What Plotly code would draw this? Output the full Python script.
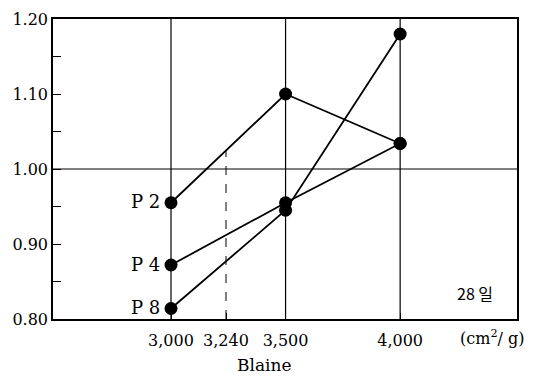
import numpy as np
import plotly.graph_objects as go

# Blaine fineness (cm^2/g) and 28-day strength ratio for each mix
blaine = [3000, 3500, 4000]
p2 = [0.955, 1.100, 1.034]
p4 = [0.872, 0.955, 1.034]
p8 = [0.814, 0.945, 1.180]
series = [("P 2", p2), ("P 4", p4), ("P 8", p8)]

x_ticks = [3000, 3240, 3500, 4000]
x_ticktext = ["3,000", "3,240", "3,500", "4,000"]
y_ticks = [0.80, 0.90, 1.00, 1.10, 1.20]
y_ticktext = ["0.80", "0.90", "1.00", "1.10", "1.20"]
grid_x = [3000, 3500, 4000]
ref_blaine = 3240

serif = "DejaVu Serif"

fig = go.Figure()
for name, vals in series:
    fig.add_trace(go.Scatter(
        x=blaine, y=vals, mode="lines+markers", name=name,
        line=dict(color="black", width=1.8),
        marker=dict(color="black", size=13),
        showlegend=False,
    ))
    fig.add_annotation(
        x=blaine[0], y=vals[0], text=name, showarrow=False,
        xanchor="right", xshift=-9, yshift=1,
        font=dict(family=serif, size=18, color="black"),
    )

# vertical grid lines and the 1.00 reference line
for gx in grid_x:
    fig.add_shape(type="line", x0=gx, x1=gx, y0=0, y1=1, xref="x", yref="paper",
                  line=dict(color="black", width=1.2), layer="below")
fig.add_shape(type="line", x0=0, x1=1, y0=1.0, y1=1.0, xref="paper", yref="y",
              line=dict(color="black", width=1.2), layer="below")

# dashed drop line from the P 2 curve at Blaine 3,240
p2_at_ref = float(np.interp(ref_blaine, blaine, p2))
fig.add_shape(type="line", x0=ref_blaine, x1=ref_blaine, y0=0.80, y1=p2_at_ref,
              xref="x", yref="y", line=dict(color="black", width=1, dash="dash"),
              layer="below")

fig.add_annotation(x=0.909, y=0.087, xref="paper", yref="paper", text="28 일",
                   showarrow=False, xanchor="center", yanchor="middle",
                   font=dict(family="Noto Sans CJK KR, " + serif, size=16, color="black"))
fig.add_annotation(x=0.946, y=-0.062, xref="paper", yref="paper", text="(cm<sup>2</sup>/ g)",
                   showarrow=False, xanchor="center", yanchor="middle",
                   font=dict(family=serif, size=16, color="black"))
fig.add_annotation(x=0.455, y=-0.152, xref="paper", yref="paper", text="Blaine",
                   showarrow=False, xanchor="center", yanchor="middle",
                   font=dict(family=serif, size=17, color="black"))

fig.update_xaxes(
    range=[2485, 4510], tickvals=x_ticks, ticktext=x_ticktext,
    ticks="inside", ticklen=6, tickcolor="black", tickwidth=1.2,
    ticklabelstandoff=6,
    showgrid=False, zeroline=False,
    showline=True, linecolor="black", linewidth=1.5, mirror=True,
    tickfont=dict(family=serif, size=16, color="black"),
)
fig.update_yaxes(
    range=[0.80, 1.20], tickvals=y_ticks, ticktext=y_ticktext,
    ticks="inside", ticklen=8, tickcolor="black", tickwidth=1.2,
    minor=dict(tickvals=[0.85, 0.95, 1.05, 1.15], ticks="inside", ticklen=8,
               tickcolor="black", tickwidth=1.2, showgrid=False),
    showgrid=False, zeroline=False,
    showline=True, linecolor="black", linewidth=1.5, mirror=True,
    tickfont=dict(family=serif, size=16, color="black"),
)
fig.update_layout(
    width=546, height=376,
    margin=dict(l=53, r=29, t=10, b=57),
    paper_bgcolor="white", plot_bgcolor="white",
)

fig.write_html("out.html")
